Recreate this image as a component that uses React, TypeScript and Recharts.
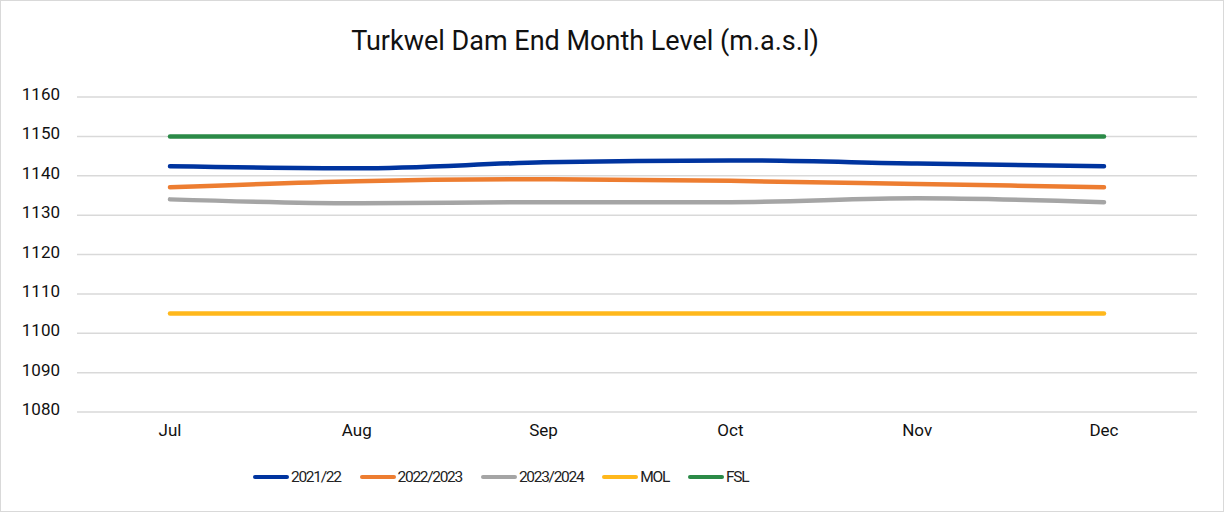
import React from "react";
import {
  LineChart,
  Line,
  XAxis,
  YAxis,
  CartesianGrid,
} from "recharts";

// End-of-month reservoir level, metres above sea level
const months = ["Jul", "Aug", "Sep", "Oct", "Nov", "Dec"];
const level2021 = [1142.4, 1141.9, 1143.4, 1143.9, 1143.1, 1142.4];
const level2022 = [1137.1, 1138.6, 1139.1, 1138.7, 1137.9, 1137.1];
const level2023 = [1134.0, 1133.0, 1133.3, 1133.3, 1134.3, 1133.3];
const molLevel = [1105, 1105, 1105, 1105, 1105, 1105];
const fslLevel = [1150, 1150, 1150, 1150, 1150, 1150];
const yTicks = [1080, 1090, 1100, 1110, 1120, 1130, 1140, 1150, 1160];

const series = [
  { key: "y2021", name: "2021/22", color: "#00349F" },
  { key: "y2022", name: "2022/2023", color: "#ED7D31" },
  { key: "y2023", name: "2023/2024", color: "#A5A5A5" },
  { key: "mol", name: "MOL", color: "#FFB81C" },
  { key: "fsl", name: "FSL", color: "#2B8A47" },
];

const data = months.map((m, i) => ({
  month: m,
  y2021: level2021[i],
  y2022: level2022[i],
  y2023: level2023[i],
  mol: molLevel[i],
  fsl: fslLevel[i],
}));

const FONT = "Roboto, 'Noto Sans', sans-serif";

export default function App() {
  return (
    <div
      style={{
        position: "absolute",
        left: 0,
        top: 0,
        width: 1225,
        height: 513,
        background: "#fff",
        fontFamily: FONT,
      }}
    >
      <div
        style={{
          position: "absolute",
          left: 0,
          top: 0,
          width: 1222,
          height: 510,
          border: "1px solid #D9D9D9",
        }}
      />
      <LineChart
        width={1225}
        height={513}
        data={data}
        margin={{ top: 97, right: 28, left: 0, bottom: 61 }}
      >
        <text
          x={585}
          y={50}
          textAnchor="middle"
          fontSize={27}
          fill="#111"
          fontFamily={FONT}
        >
          Turkwel Dam End Month Level (m.a.s.l)
        </text>
        <CartesianGrid vertical={false} stroke="#D9D9D9" strokeWidth={1.5} />
        <XAxis
          dataKey="month"
          height={40}
          padding={{ left: 93, right: 93 }}
          axisLine={false}
          tickLine={false}
          tickMargin={6}
          tick={{ fontSize: 17, fill: "#111", fontFamily: FONT }}
        />
        <YAxis
          width={77}
          domain={[1080, 1160]}
          ticks={yTicks}
          interval={0}
          axisLine={false}
          tickLine={false}
          tickMargin={11}
          tick={{ fontSize: 17, fill: "#111", fontFamily: FONT, dy: -3 }}
        />
        {series.map((s) => (
          <Line
            key={s.key}
            dataKey={s.key}
            name={s.name}
            type="monotone"
            stroke={s.color}
            strokeWidth={4.5}
            strokeLinecap="round"
            dot={false}
            activeDot={false}
            isAnimationActive={false}
          />
        ))}
      </LineChart>
      <div
        style={{
          position: "absolute",
          left: 253,
          top: 468,
          display: "flex",
          alignItems: "center",
          fontSize: 15.5,
          letterSpacing: -1.3,
          color: "#222",
          whiteSpace: "nowrap",
        }}
      >
        {series.map((s) => (
          <div
            key={s.key}
            style={{ display: "flex", alignItems: "center", marginRight: 19 }}
          >
            <div
              style={{
                width: 36,
                height: 4.5,
                borderRadius: 3,
                background: s.color,
                marginRight: 2,
              }}
            />
            <span>{s.name}</span>
          </div>
        ))}
      </div>
    </div>
  );
}
